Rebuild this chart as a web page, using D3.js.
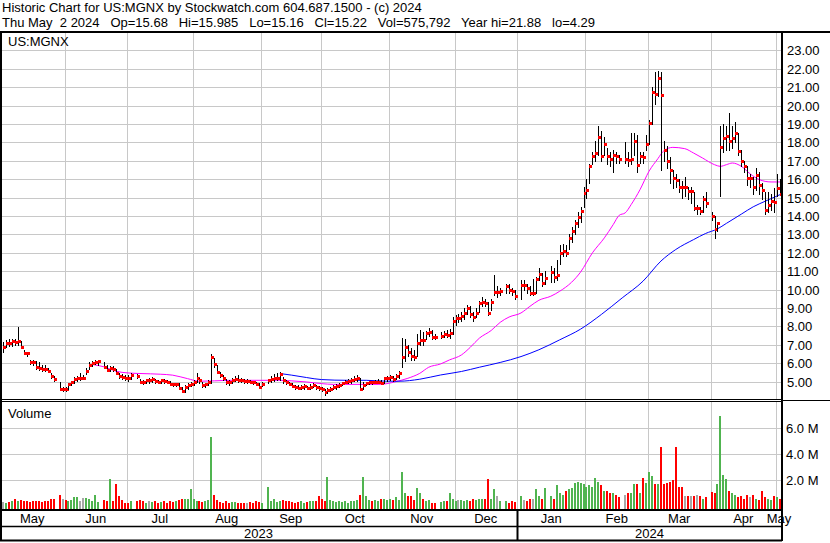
<!DOCTYPE html>
<html><head><meta charset="utf-8">
<script src="https://cdn.jsdelivr.net/npm/d3@7/dist/d3.min.js"></script>
<style>
body{margin:0;background:#fff;}
svg{display:block;font-family:"Liberation Sans",Arial,sans-serif;}
text{white-space:pre;}
</style></head><body>
<svg id="c" width="830" height="543"></svg>
<script>
// ---------- data (one entry per weekday, null = market holiday) ----------
const startDate = "2023-05-03", endDate = "2024-05-02";
const closes = [
 6.86,7.11,7.08,7.19,7.15,7.20,6.90,6.58,6.53,6.07,6.06,5.80,5.75,5.71,5.66,5.60,5.31,5.13,null,4.62,4.62,
 4.58,4.85,4.96,5.15,5.22,5.22,5.22,5.55,5.90,6.02,6.04,6.13,null,5.80,5.62,5.76,5.70,5.47,5.29,5.25,5.22,5.20,
 5.38,null,5.30,4.98,4.97,5.07,5.07,5.16,5.02,5.00,5.07,5.04,5.00,4.89,4.85,4.89,4.67,4.49,4.71,4.80,4.89,
 4.98,5.22,5.07,4.80,4.85,5.00,6.36,5.98,5.53,5.35,5.20,4.98,4.96,5.11,5.16,5.11,5.07,5.05,5.05,4.98,4.96,4.89,4.71,
 4.89,null,5.07,5.13,5.20,5.22,5.40,5.07,4.98,4.89,4.76,4.70,4.67,4.70,4.76,4.67,4.73,4.80,4.71,4.67,4.60,
 4.44,4.53,4.62,4.71,4.75,4.80,4.93,5.00,5.04,5.06,5.15,5.18,4.62,4.80,4.93,4.98,4.96,4.98,5.00,4.95,5.18,5.20,
 5.27,5.15,5.30,5.45,6.36,6.90,6.63,6.40,6.36,7.09,7.27,7.25,7.63,7.67,7.45,7.42,null,7.49,7.60,7.55,7.62,8.27,
 8.45,8.45,8.58,8.73,9.00,8.70,8.49,8.73,9.27,9.31,9.27,8.73,9.30,9.85,9.85,9.90,null,10.20,9.96,9.93,9.64,
 null,10.27,10.27,10.09,9.82,9.82,10.55,10.87,10.36,10.64,null,10.95,10.70,10.80,12.00,12.10,12.00,12.80,13.20,13.60,13.95,14.26,15.25,
 15.40,16.70,17.28,17.43,18.28,17.28,17.90,17.28,17.10,17.33,17.25,17.12,null,17.12,17.05,17.10,18.10,16.77,17.25,17.20,17.90,
 19.05,20.73,20.63,21.50,20.55,17.60,17.00,16.50,16.07,15.98,15.58,15.57,15.57,15.35,15.35,14.44,14.44,14.26,14.95,14.71,null,
 13.99,13.27,13.60,17.73,18.24,18.33,18.06,18.24,18.50,17.52,17.00,16.70,16.07,16.07,15.56,16.25,15.69,15.44,14.31,14.58,14.80,14.77,
 15.53,15.22
];
const highs = [
 7.15,7.25,7.30,7.30,7.30,7.99,7.20,6.70,6.60,6.20,6.15,6.10,6.05,5.90,5.90,5.75,5.45,5.30,null,5.00,4.70,
 4.70,4.95,5.05,5.25,5.30,5.45,5.35,5.75,6.05,6.10,6.15,6.20,null,6.05,5.90,5.85,5.85,5.70,5.45,5.40,5.35,5.35,
 5.45,null,5.40,5.15,5.10,5.15,5.20,5.25,5.15,5.10,5.15,5.15,5.10,5.05,4.95,4.95,4.90,4.70,4.80,4.90,5.00,
 5.10,5.45,5.20,5.00,4.95,5.10,6.50,6.30,5.90,5.50,5.35,5.15,5.10,5.20,5.30,5.35,5.20,5.15,5.15,5.10,5.05,5.00,4.90,
 5.00,null,5.15,5.30,5.40,5.45,5.50,5.25,5.10,5.00,4.90,4.80,4.80,4.80,4.85,4.78,4.85,4.90,4.82,4.78,4.72,
 4.60,4.65,4.72,4.80,4.85,4.90,5.00,5.10,5.15,5.20,5.30,5.35,5.20,5.00,5.00,5.05,5.05,5.10,5.15,5.10,5.25,5.30,
 5.35,5.30,5.40,5.55,7.36,7.30,7.00,6.80,6.70,7.60,7.80,7.70,7.75,7.90,7.80,7.60,null,7.70,7.75,7.80,7.85,8.50,
 8.60,8.70,8.80,9.00,9.15,9.10,8.80,9.00,9.40,9.60,9.50,9.30,9.50,10.80,10.20,10.10,null,10.30,10.30,10.10,10.00,
 null,10.50,10.50,10.30,10.20,10.60,10.70,11.20,10.90,11.00,null,11.30,11.20,11.60,12.40,12.50,12.40,13.00,13.40,13.80,14.20,14.50,15.60,
 16.00,16.80,17.50,18.10,18.90,18.60,18.30,17.70,17.50,17.60,17.50,17.30,null,18.00,17.50,18.50,18.50,18.40,17.50,17.50,18.40,
 19.20,21.00,21.80,21.88,21.85,18.10,17.80,17.20,16.50,16.30,16.00,15.90,16.10,15.60,15.60,15.30,14.60,14.50,15.10,15.30,null,
 14.20,14.00,13.70,18.90,19.00,18.90,19.60,18.90,19.10,18.50,17.60,17.00,16.70,16.30,16.10,16.60,16.40,15.80,15.30,15.30,15.20,15.50,
 16.30,15.985
];
const lows = [
 6.60,6.90,6.95,6.95,7.00,7.00,6.80,6.50,6.40,5.95,5.90,5.70,5.65,5.60,5.55,5.50,5.20,5.05,null,4.55,4.50,
 4.50,4.60,4.80,4.95,5.05,5.10,5.15,5.40,5.70,5.85,5.95,5.90,null,5.75,5.60,5.55,5.60,5.40,5.20,5.15,5.10,5.05,
 5.15,null,5.20,4.90,4.85,4.90,4.95,5.00,4.95,4.90,4.95,4.95,4.90,4.80,4.75,4.75,4.60,4.42,4.45,4.60,4.75,
 4.80,5.00,4.95,4.70,4.70,4.80,4.95,5.80,5.45,5.25,5.10,4.85,4.80,4.95,5.05,5.00,5.00,4.95,4.95,4.90,4.85,4.80,4.65,
 4.75,null,4.90,5.00,5.05,5.10,5.10,4.95,4.85,4.80,4.70,4.62,4.60,4.60,4.62,4.60,4.62,4.70,4.62,4.55,4.50,
 4.29,4.40,4.50,4.60,4.62,4.70,4.80,4.90,4.95,4.95,5.05,5.05,4.55,4.60,4.80,4.85,4.85,4.90,4.90,4.85,4.95,5.05,
 5.10,5.05,5.15,5.20,5.82,6.10,6.40,6.20,6.20,6.40,7.00,7.00,7.30,7.50,7.30,7.30,null,7.35,7.40,7.40,7.35,7.60,
 8.10,8.25,8.30,8.40,8.70,8.50,8.30,8.50,8.80,9.10,9.10,8.60,8.90,9.70,9.60,9.70,null,9.80,9.80,9.70,9.50,
 null,9.50,10.00,9.80,9.70,9.70,9.80,10.50,10.20,10.30,null,10.40,10.40,10.50,11.40,11.80,11.80,12.20,12.60,13.00,13.40,13.70,14.50,
 15.00,15.80,16.80,17.00,17.30,17.00,17.30,16.80,16.70,16.40,16.90,16.90,null,16.90,16.70,16.80,17.30,16.40,16.90,16.90,17.60,
 17.90,19.00,20.10,20.50,16.50,17.00,16.60,15.80,15.50,15.60,15.30,15.00,15.10,14.90,14.70,14.30,14.10,14.10,14.20,14.50,null,
 13.80,12.80,13.20,15.07,17.50,17.60,17.60,17.70,18.00,17.30,16.70,16.40,15.70,15.60,15.20,15.40,15.20,14.90,14.10,14.20,14.30,14.20,
 15.10,15.16
];
// volume in millions of shares
const volumes = [
 0.35,0.30,0.35,0.45,0.60,0.45,0.50,0.40,0.45,0.35,0.40,0.45,0.40,0.35,0.40,0.45,0.60,0.55,null,0.85,0.60,
 0.50,0.45,0.50,0.70,0.70,0.40,0.65,0.65,0.60,0.40,0.90,0.35,null,0.50,0.40,2.10,0.40,1.70,0.80,0.50,0.30,0.30,
 0.40,null,0.45,0.50,0.40,0.30,0.45,0.35,0.40,0.30,0.35,0.40,0.30,0.40,0.35,0.40,0.50,0.55,0.60,0.55,1.30,
 0.60,0.45,0.40,0.35,0.40,0.50,5.30,0.90,0.50,0.35,0.30,0.40,0.30,0.35,0.35,0.30,0.25,0.30,0.30,0.35,0.30,0.40,0.35,
 0.30,null,1.45,0.40,0.60,0.35,0.40,0.50,0.45,0.40,0.35,0.30,0.35,0.40,0.30,0.35,0.40,0.45,0.40,0.80,0.60,
 0.45,2.25,0.50,0.45,0.35,0.40,0.35,0.40,0.30,0.45,0.40,0.50,0.90,2.25,0.80,0.50,0.40,0.50,0.45,0.60,0.55,0.50,
 0.60,0.50,0.70,0.50,2.64,1.00,0.80,0.80,0.50,1.40,1.00,0.60,0.40,0.50,0.30,0.30,null,0.35,0.40,0.45,1.00,0.60,
 0.45,0.50,0.50,0.45,0.50,0.40,0.60,0.50,0.55,0.60,0.55,2.10,0.60,1.30,0.80,0.40,null,0.45,0.30,0.40,0.35,
 null,0.80,0.50,0.40,0.60,0.55,1.30,0.80,0.60,1.40,null,0.80,0.60,1.60,1.00,0.90,1.20,1.30,1.40,1.80,1.90,1.80,1.70,
 1.50,1.60,1.50,2.20,1.90,1.60,1.20,1.20,1.00,1.00,0.90,0.70,null,0.90,1.00,1.00,1.70,1.70,1.00,2.20,1.80,
 2.60,2.30,1.70,1.70,4.50,1.70,1.80,1.90,2.00,4.50,1.50,1.50,0.80,0.80,0.80,0.80,0.90,0.80,0.60,0.70,null,
 1.10,1.00,1.70,6.90,2.40,2.10,1.20,1.00,0.90,0.70,0.80,0.60,0.90,0.70,0.90,0.60,0.50,1.20,0.70,0.60,0.50,0.80,
 0.70,0.576
];
// moving averages (weekday index, value)
const maFastIdx = [30,34,38,42,46,53,57,62,66,71,77,86,93,97,102,107,111,120,126,129,132,136,140,143,147,150,154,157,160,164,167,170,174,177,180,184,187,191,194,198,202,205,207,209,211,214,217,220,222,225,229,232,235,239,241,243,245,248,251,254,258,261];
const maFastVal = [5.93,5.80,5.56,5.47,5.44,5.40,5.35,5.16,5.02,5.04,5.07,5.07,5.07,5.04,4.98,4.89,4.85,4.85,4.85,4.89,5.00,5.18,5.45,5.78,5.96,6.18,6.45,6.87,7.36,7.78,8.22,8.51,8.73,9.09,9.42,9.64,9.91,10.40,10.95,12.00,12.81,13.54,14.04,14.17,14.62,15.44,16.43,17.12,17.55,17.73,17.66,17.42,17.15,16.79,16.70,16.79,16.88,16.70,16.29,15.98,15.85,15.85];
const maSlowIdx = [93,97,102,107,116,122,129,133,140,147,154,160,167,174,180,187,194,201,208,215,221,226,232,236,240,243,248,252,256,261];
const maSlowVal = [5.44,5.35,5.22,5.11,5.07,5.07,5.02,5.02,5.13,5.36,5.55,5.78,6.04,6.36,6.73,7.27,7.85,8.65,9.55,10.46,11.55,12.18,12.72,13.05,13.30,13.60,14.10,14.50,14.80,15.16];

const priceTicks = [5,6,7,8,9,10,11,12,13,14,15,16,17,18,19,20,21,22,23];
const volTicks = [2,4,6];
const monthLabels = ["May","Jun","Jul","Aug","Sep","Oct","Nov","Dec","Jan","Feb","Mar","Apr","May"];
const yearLabels = ["2023","2024"];
const title1 = "Historic Chart for US:MGNX by Stockwatch.com 604.687.1500 - (c) 2024";
const title2 = "Thu May  2 2024   Op=15.68   Hi=15.985   Lo=15.16   Cl=15.22   Vol=575,792   Year hi=21.88   lo=4.29";
const symbolLabel = "US:MGNX";

// ---------- layout ----------
const svg = d3.select("#c");
const FS = 13;
const plotR = 782, priceTop = 32, priceBot = 400, volTop = 401, volBot = 510;
const GRID = "#c8c8c8";

const parse = d3.utcParse("%Y-%m-%d"), fmt = d3.utcFormat("%Y-%m-%d");
const days = d3.utcDay.range(parse(startDate), d3.utcDay.offset(parse(endDate), 1))
  .filter(d => d.getUTCDay() % 6 !== 0);
const keys = days.map(fmt);
const x = d3.scalePoint().domain(keys).range([3, 780]);
const xi = i => x(keys[i]);
const yP = d3.scaleLinear().domain([4, 24]).range([priceBot, priceTop]);
const yV = d3.scaleLinear().domain([0, 8]).range([506.5, 401.3]);

svg.append("rect").attr("width", 830).attr("height", 543).attr("fill", "#fff");

// month boundaries: last weekday on/before the 1st of each month
const bounds = [];
for (let m = 1; m < monthLabels.length; m++) {
  const first = d3.utcMonth.offset(d3.utcMonth.floor(parse(startDate)), m);
  let idx = 0;
  days.forEach((d, i) => { if (d <= first) idx = i; });
  bounds.push(xi(idx) - 1);
}

// grids
const g = svg.append("g");
priceTicks.forEach(v => g.append("line").attr("x1", 0).attr("x2", plotR)
  .attr("y1", Math.round(yP(v)) + 0.5).attr("y2", Math.round(yP(v)) + 0.5).attr("stroke", GRID));
volTicks.forEach(v => g.append("line").attr("x1", 0).attr("x2", plotR)
  .attr("y1", Math.round(yV(v)) + 0.5).attr("y2", Math.round(yV(v)) + 0.5).attr("stroke", GRID));
bounds.forEach(b => {
  const bx = Math.round(b) + 0.5;
  g.append("line").attr("x1", bx).attr("x2", bx).attr("y1", priceTop).attr("y2", priceBot).attr("stroke", GRID);
  g.append("line").attr("x1", bx).attr("x2", bx).attr("y1", volTop).attr("y2", volBot).attr("stroke", GRID);
});

// volume bars
const vg = svg.append("g");
volumes.forEach((v, i) => {
  if (v == null) return;
  let prev = null;
  for (let j = i - 1; j >= 0; j--) if (closes[j] != null) { prev = closes[j]; break; }
  const c = closes[i];
  const col = prev == null || c === prev ? "#a8a8a8" : (c > prev ? "#50b450" : "#ff0000");
  const cx = Math.round(xi(i));
  vg.append("rect").attr("x", cx - 1).attr("width", 2)
    .attr("y", Math.round(yV(v))).attr("height", volBot - Math.round(yV(v))).attr("fill", col);
});

// moving averages
svg.append("clipPath").attr("id", "pc").append("rect")
  .attr("x", 0).attr("y", priceTop).attr("width", plotR).attr("height", priceBot - priceTop);
const line = d3.line().curve(d3.curveMonotoneX);
svg.append("path").attr("clip-path", "url(#pc)")
  .attr("d", line(maFastIdx.map((s, k) => [xi(s), yP(maFastVal[k])])))
  .attr("fill", "none").attr("stroke", "#ff00ff").attr("stroke-width", 1);
svg.append("path").attr("clip-path", "url(#pc)")
  .attr("d", line(maSlowIdx.map((s, k) => [xi(s), yP(maSlowVal[k])])))
  .attr("fill", "none").attr("stroke", "#0000ff").attr("stroke-width", 1);

// price bars
const pg = svg.append("g");
closes.forEach((c, i) => {
  if (c == null) return;
  const cx = Math.round(xi(i));
  pg.append("line").attr("x1", cx + 0.5).attr("x2", cx + 0.5)
    .attr("y1", Math.round(yP(highs[i]))).attr("y2", Math.round(yP(lows[i])) + 1)
    .attr("stroke", "#000").attr("stroke-width", 1);
  pg.append("rect").attr("x", cx).attr("y", Math.round(yP(c)) - 1)
    .attr("width", 3).attr("height", 3).attr("fill", "#ff0000");
});

// frame
const K = "#000";
const hl = (x1, x2, y, w) => svg.append("line").attr("x1", x1).attr("x2", x2).attr("y1", y).attr("y2", y).attr("stroke", K).attr("stroke-width", w);
const vl = (x0, y1, y2, w) => svg.append("line").attr("x1", x0).attr("x2", x0).attr("y1", y1).attr("y2", y2).attr("stroke", K).attr("stroke-width", w);
hl(0, 830, 32, 2);
hl(0, plotR, 399.5, 1); hl(0, plotR, 401.5, 1); hl(plotR, 830, 400.5, 1);
hl(0, plotR, 510, 2);
hl(0, plotR, 526.5, 1.5);
hl(0, plotR, 540.5, 2);
vl(1, 31, 541, 2);
vl(plotR, 31, 541, 2);
const janB = Math.round(bounds[monthLabels.indexOf("Jan") - 1]);
vl(janB + 0.5, volBot, 541, 2);

// texts
const T = (s, x0, y0, anchor) => svg.append("text").attr("x", x0).attr("y", y0)
  .attr("font-size", FS).attr("fill", "#000").attr("text-anchor", anchor || "start").text(s);
T(title1, 2, 12);
T(title2, 2, 27);
T(symbolLabel, 8, 46);
T("Volume", 8, 418);
priceTicks.forEach(v => T(d3.format(".2f")(v), 787, Math.round(yP(v)) + 5));
volTicks.forEach(v => T(d3.format(".1f")(v) + " M", 786, Math.round(yV(v)) + 5));

const edges = [0, ...bounds, plotR];
monthLabels.forEach((m, k) => T(m, (edges[k] + edges[k + 1]) / 2, 523, "middle"));
T(yearLabels[0], janB / 2, 538, "middle");
T(yearLabels[1], (janB + plotR) / 2, 538, "middle");
</script>
</body></html>
